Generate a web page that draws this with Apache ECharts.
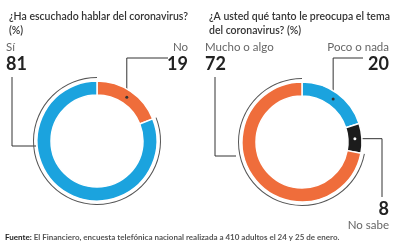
<!DOCTYPE html>
<html>
<head>
<meta charset="utf-8">
<script src="https://cdn.jsdelivr.net/npm/echarts@6/dist/echarts.min.js"></script>
<style>
  html, body { margin: 0; padding: 0; background: #fff; }
  #chart { width: 393px; height: 244px; }
</style>
</head>
<body>
<div id="chart"></div>
<script>
// data
const leftNames = ["No", "Sí"];
const leftValues = [19, 81];
const rightNames = ["Poco o nada", "No sabe", "Mucho o algo"];
const rightValues = [20, 8, 72];

const BLUE = "#1ba3de";
const ORANGE = "#ef6d3b";
const BLACK = "#1c1c1c";
const FONT = "Lato";

const leftCenter = [97, 141];
const rightCenter = [302, 142];
const R_IN = 46, R_OUT = 60;

// point in the middle of the ring at the middle of a slice
function midPoint(values, idx, center) {
  const total = values.reduce((a, b) => a + b, 0);
  let before = 0;
  for (let i = 0; i < idx; i++) before += values[i];
  const ang = ((before + values[idx] / 2) / total) * Math.PI * 2;
  const r = (R_IN + R_OUT) / 2;
  return [center[0] + r * Math.sin(ang), center[1] - r * Math.cos(ang)];
}

const rich = {
  n: { fontFamily: FONT, fontSize: 11.5, color: "#666", lineHeight: 15 },
  v: { fontFamily: FONT, fontSize: 18, fontWeight: "bold", color: "#222", lineHeight: 18 },
};

function ringSeries(names, values, colors, center, layoutFn, fmt) {
  return {
    type: "pie",
    center: center,
    radius: [R_IN, R_OUT],
    startAngle: 90,
    clockwise: true,
    avoidLabelOverlap: false,
    silent: true,
    itemStyle: { borderColor: "#fff", borderWidth: 1.5 },
    label: { show: true, position: "outside", rich: rich, formatter: fmt },
    labelLine: { show: true, lineStyle: { color: "#333", width: 1 } },
    labelLayout: layoutFn,
    data: names.map((n, i) => ({ name: n, value: values[i], itemStyle: { color: colors[i] } })),
  };
}

function thinArc(names, values, bigIdx, center) {
  return {
    type: "pie",
    center: center,
    radius: [63, 64],
    startAngle: 90,
    silent: true,
    label: { show: false },
    labelLine: { show: false },
    itemStyle: { borderWidth: 0 },
    data: names.map((n, i) => ({
      name: n,
      value: values[i],
      itemStyle: { color: i === bigIdx ? "#555" : "rgba(0,0,0,0)" },
    })),
  };
}

const topFmt = (p) => "{n|" + p.name + "}\n{v|" + p.value + "}";
const bottomFmt = (p) => "{v|" + p.value + "}\n{n|" + p.name + "}";

const leftLayout = function (params) {
  if (params.dataIndex === 0) {
    const s = midPoint(leftValues, 0, leftCenter);
    return { x: 188, y: 40, align: "right", verticalAlign: "top",
      labelLinePoints: [s, [s[0], 58], [168, 58]] };
  }
  return { x: 6, y: 40, align: "left", verticalAlign: "top",
    labelLinePoints: [[36, 146], [12, 146], [12, 77]] };
};

const rightLayout = function (params) {
  if (params.dataIndex === 0) {
    const s = midPoint(rightValues, 0, rightCenter);
    return { x: 389, y: 40, align: "right", verticalAlign: "top",
      labelLinePoints: [s, [s[0], 58], [363, 58]] };
  }
  if (params.dataIndex === 1) {
    const s = midPoint(rightValues, 1, rightCenter);
    return { x: 389, y: 200, align: "right", verticalAlign: "top",
      labelLinePoints: [s, [382, s[1]], [382, 197]] };
  }
  return { x: 205, y: 40, align: "left", verticalAlign: "top",
    labelLinePoints: [[236, 156], [215, 156], [215, 77]] };
};

const dots = [
  { p: midPoint(leftValues, 0, leftCenter), c: "#333" },
  { p: midPoint(rightValues, 0, rightCenter), c: "#333" },
  { p: midPoint(rightValues, 1, rightCenter), c: "#fff" },
];

const titleStyle = { fontFamily: FONT, fontSize: 10.5, fontWeight: 600, color: "#333", lineHeight: 14.5 };

const chart = echarts.init(document.getElementById("chart"));
chart.setOption({
  animation: false,
  title: [
    { text: "¿Ha escuchado hablar del coronavirus?\n(%)", left: 4, top: 4, textStyle: titleStyle },
    { text: "¿A usted qué tanto le preocupa el tema\ndel coronavirus? (%)", left: 204, top: 4, textStyle: titleStyle },
    {
      text: "{b|Fuente:} El Financiero, encuesta telefónica nacional realizada a 410 adultos el 24 y 25 de enero.",
      left: 5, top: 232, padding: 0,
      textStyle: {
        fontFamily: FONT, fontSize: 8, color: "#555", lineHeight: 10,
        rich: { b: { fontFamily: FONT, fontSize: 8, fontWeight: "bold", color: "#222", lineHeight: 10 } },
      },
    },
  ],
  series: [
    thinArc(leftNames, leftValues, 1, leftCenter),
    ringSeries(leftNames, leftValues, [ORANGE, BLUE], leftCenter, leftLayout, topFmt),
    thinArc(rightNames, rightValues, 2, rightCenter),
    ringSeries(rightNames, rightValues, [BLUE, BLACK, ORANGE], rightCenter, rightLayout,
      (p) => (p.dataIndex === 1 ? bottomFmt(p) : topFmt(p))),
  ],
  graphic: dots.map((d) => ({
    type: "circle",
    shape: { cx: d.p[0], cy: d.p[1], r: 1.5 },
    style: { fill: d.c },
    z: 100,
  })),
});
</script>
</body>
</html>
